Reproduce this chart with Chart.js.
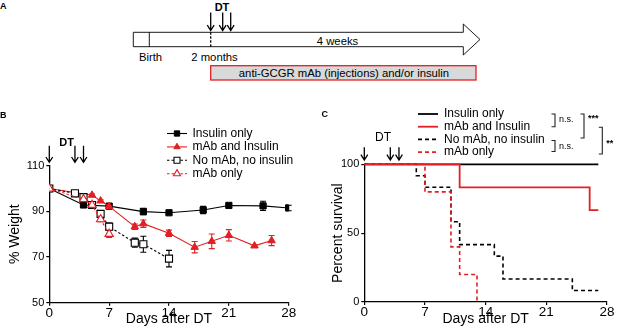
<!DOCTYPE html>
<html>
<head>
<meta charset="utf-8">
<script src="https://cdn.jsdelivr.net/npm/chart.js@4.4.0/dist/chart.umd.min.js"></script>
<style>
  body { margin: 0; background: #fff; width: 617px; height: 336px; overflow: hidden; position: relative;
         font-family: "Liberation Sans", Arial, sans-serif; }
  #schema { position: absolute; left: 0; top: 0; }
  #weight { position: absolute; left: 0; top: 100px; }
  #surv { position: absolute; left: 310px; top: 100px; }
</style>
</head>
<body>
<svg id="schema" width="617" height="100">
  <text x="0" y="9" font-size="9" font-weight="bold">A</text>
  <text x="222" y="10.5" font-size="11" font-weight="bold" text-anchor="middle">DT</text>
  <g stroke="#000" stroke-width="1.3" fill="none">
    <path d="M210.7 12.5V30.5M207.3 25.2l3.4 5.3 3.4-5.3"/>
    <path d="M222.7 12.5V30.5M219.3 25.2l3.4 5.3 3.4-5.3"/>
    <path d="M230.7 12.5V30.5M227.3 25.2l3.4 5.3 3.4-5.3"/>
  </g>
  <polygon points="133.3,32.3 463.3,32.3 463.3,24 480,39.5 463.3,55 463.3,46.7 133.3,46.7"
           fill="#fff" stroke="#000" stroke-width="0.9"/>
  <line x1="149.3" y1="32.3" x2="149.3" y2="46.7" stroke="#000" stroke-width="0.9"/>
  <line x1="210.7" y1="32.3" x2="210.7" y2="46.7" stroke="#000" stroke-width="1.3" stroke-dasharray="2.5 1.5"/>
  <text x="337.5" y="45" font-size="11.3" text-anchor="middle">4 weeks</text>
  <text x="150.5" y="61" font-size="11.3" text-anchor="middle">Birth</text>
  <text x="214.5" y="61" font-size="11.3" text-anchor="middle">2 months</text>
  <rect x="210.7" y="65.7" width="265.3" height="14.3" fill="#d9d9d9" stroke="#e31e24" stroke-width="1.3"/>
  <text x="344" y="77" font-size="11.3" text-anchor="middle">anti-GCGR mAb (injections) and/or insulin</text>
</svg>
<canvas id="weight" width="310" height="236"></canvas>
<canvas id="surv" width="307" height="236"></canvas>
<script>
const groups = ['Insulin only', 'mAb and Insulin', 'No mAb, no insulin', 'mAb only'];
const dayTicks = [0, 7, 14, 21, 28];
const weightTicks = [50, 70, 90, 110];
const survivalTicks = [0, 50, 100];
const dtDays = [0, 3, 4];

// panel B: % weight (mean and error)
const insulinDays   = [0, 4, 7, 11, 14, 18, 21, 25, 28];
const insulinWeight = [100, 92.8, 92.3, 89.9, 89.4, 90.6, 92.6, 92.4, 91.5];
const insulinErr    = [0, 0.8, 0.5, 1.4, 0.8, 1.6, 0.8, 2.0, 1.2];

const mabInsDays    = [0, 5, 6, 7, 10, 11, 14, 17, 19, 21, 24, 26];
const mabInsWeight  = [100, 97.1, 94.6, 92.2, 83.3, 84.6, 80.4, 74.3, 76.9, 79.5, 74.9, 77.2];
const mabInsErr     = [0, 0.5, 0.5, 0.5, 1.2, 1.6, 1.4, 2.5, 3.2, 2.5, 0.5, 2.2];

const noneDays      = [0, 3, 4, 5, 6, 7, 10, 11, 14];
const noneWeight    = [100, 97.9, 96.2, 92.8, 88.9, 83.3, 76.3, 75.6, 69.3];
const noneErr       = [0, 0.6, 0.8, 0.8, 1.2, 1.6, 2.0, 3.5, 3.6];

const mabDays       = [0, 4, 5, 6, 7];
const mabWeight     = [100, 95.3, 92.8, 86.5, 80.1];
const mabErr        = [0, 0, 0, 1.0, 1.5];

// panel C: survival steps
const survInsulinDays = [0, 27];
const survInsulin     = [100, 100];
const survMabInsDays  = [0, 11, 26, 27];
const survMabIns      = [100, 83.3, 66.7, 66.7];
const survNoneDays    = [0, 6, 7, 10, 11, 15, 16, 24, 27];
const survNone        = [100, 91.7, 83.3, 58.3, 41.7, 33.3, 16.7, 8.3, 8.3];
const survMabDays     = [0, 7, 10, 11, 13];
const survMab         = [100, 80, 40, 20, 0];

const RED = '#e31e24';
const FONT = '"Liberation Sans", Arial, sans-serif';
Chart.defaults.font.family = FONT;
Chart.defaults.color = '#000';

const pts = (xs, ys) => xs.map((x, i) => ({x: x, y: ys[i]}));

function mark(ctx, style, r, x, y) {
  ctx.beginPath();
  if (style === 'rect') {
    const s = r * Math.SQRT1_2;
    ctx.rect(x - s, y - s, 2 * s, 2 * s);
  } else {
    for (let k = 0; k < 3; k++) {
      const a = k * 2 * Math.PI / 3;
      const px = x + Math.sin(a) * r, py = y - Math.cos(a) * r;
      k ? ctx.lineTo(px, py) : ctx.moveTo(px, py);
    }
    ctx.closePath();
  }
  ctx.fill();
  ctx.stroke();
}

const panelDecor = {
  id: 'panelDecor',
  beforeDatasetsDraw(chart) {
    const ctx = chart.ctx, ys = chart.scales.y;
    chart.data.datasets.forEach((ds, i) => {
      if (!ds.errors) return;
      const meta = chart.getDatasetMeta(i);
      ctx.save();
      ctx.strokeStyle = ds.borderColor;
      ctx.lineWidth = 1.1;
      meta.data.forEach((p, j) => {
        const e = ds.errors[j];
        if (!e) return;
        const v = ds.data[j].y;
        const y1 = ys.getPixelForValue(v + e), y2 = ys.getPixelForValue(v - e);
        ctx.beginPath();
        ctx.moveTo(p.x, y1); ctx.lineTo(p.x, y2);
        ctx.moveTo(p.x - 3, y1); ctx.lineTo(p.x + 3, y1);
        ctx.moveTo(p.x - 3, y2); ctx.lineTo(p.x + 3, y2);
        ctx.stroke();
      });
      ctx.restore();
    });
  },
  afterDraw(chart, args, o) {
    const ctx = chart.ctx, xs = chart.scales.x, top = chart.chartArea.top;
    ctx.save();
    ctx.fillStyle = '#000';
    ctx.textBaseline = 'middle';
    ctx.font = 'bold 9px ' + FONT;
    ctx.fillText(o.label, o.labelX, o.labelY);

    // DT arrows
    ctx.textAlign = 'center';
    ctx.font = o.dtFont;
    ctx.fillText('DT', o.dtX, o.dtY);
    ctx.strokeStyle = '#000';
    ctx.lineWidth = 1.3;
    dtDays.forEach(d => {
      const x = xs.getPixelForValue(d);
      const y1 = top - o.arrowTop, y2 = top - o.arrowGap;
      ctx.beginPath();
      ctx.moveTo(x, y1); ctx.lineTo(x, y2);
      ctx.moveTo(x - 3.4, y2 - 5.3); ctx.lineTo(x, y2); ctx.lineTo(x + 3.4, y2 - 5.3);
      ctx.stroke();
    });

    // legend
    const lg = o.legend;
    ctx.textAlign = 'left';
    chart.data.datasets.forEach((ds, i) => {
      const y = lg.y + i * lg.dy;
      ctx.strokeStyle = ds.borderColor;
      ctx.lineWidth = ds.borderWidth;
      ctx.setLineDash(ds.borderDash || []);
      ctx.beginPath();
      ctx.moveTo(lg.x, y); ctx.lineTo(lg.x + lg.w, y);
      ctx.stroke();
      ctx.setLineDash([]);
      if (ds.pointRadius > 0) {
        ctx.fillStyle = ds.pointBackgroundColor;
        ctx.strokeStyle = ds.pointBorderColor;
        ctx.lineWidth = ds.pointBorderWidth;
        mark(ctx, ds.pointStyle, ds.pointRadius * 0.85, lg.x + lg.w / 2, y);
      }
      ctx.fillStyle = '#000';
      ctx.font = '12px ' + FONT;
      ctx.fillText(ds.label, lg.x + lg.w + lg.gap, y);
    });

    // significance brackets
    (o.brackets || []).forEach(b => {
      ctx.strokeStyle = '#222';
      ctx.lineWidth = 1.1;
      ctx.beginPath();
      ctx.moveTo(b.x - 3.5, b.y1); ctx.lineTo(b.x, b.y1); ctx.lineTo(b.x, b.y2); ctx.lineTo(b.x - 3.5, b.y2);
      ctx.stroke();
      ctx.fillStyle = '#000';
      ctx.font = b.font;
      ctx.textBaseline = 'middle';
      ctx.fillText(b.text, b.x + 4, b.ty);
    });
    ctx.restore();
  }
};

function axes(cfg) {
  const tickGrid = {drawOnChartArea: false, drawTicks: true, tickLength: 3, color: '#000', lineWidth: 1.2};
  return {
    x: {
      type: 'linear', min: 0, max: 28,
      afterBuildTicks: s => { s.ticks = dayTicks.map(v => ({value: v})); },
      afterFit: s => { s.height = cfg.xh; },
      grid: tickGrid,
      border: {color: '#000', width: 1.3},
      ticks: {font: {size: 13.5, lineHeight: 1}, padding: 0.5, color: '#000'},
      title: {display: true, text: 'Days after DT', font: {size: 14, lineHeight: 1.2},
              padding: {top: 0, bottom: cfg.xtp}, color: '#000'}
    },
    y: {
      type: 'linear', min: cfg.ymin, max: cfg.ymax,
      afterBuildTicks: s => { s.ticks = cfg.yticks.map(v => ({value: v})); },
      afterFit: s => { s.width = cfg.yw; },
      grid: tickGrid,
      border: {color: '#000', width: 1.3},
      ticks: {font: {size: 11}, padding: 2, color: '#000'},
      title: {display: true, text: cfg.ytitle, font: {size: 14, lineHeight: 1.2},
              padding: {top: 0, bottom: 0}, color: '#000'}
    }
  };
}

new Chart(document.getElementById('weight'), {
  type: 'line',
  data: {
    datasets: [
      {label: groups[0], data: pts(insulinDays, insulinWeight), errors: insulinErr, order: 3,
       borderColor: '#000', borderWidth: 1.1, pointStyle: 'rect', pointRadius: 4.4,
       pointBackgroundColor: '#000', pointBorderColor: '#000', pointBorderWidth: 1},
      {label: groups[1], data: pts(mabInsDays, mabInsWeight), errors: mabInsErr, order: 2,
       borderColor: RED, borderWidth: 1.1, pointStyle: 'triangle', pointRadius: 4.3,
       pointBackgroundColor: RED, pointBorderColor: RED, pointBorderWidth: 1},
      {label: groups[2], data: pts(noneDays, noneWeight), errors: noneErr, order: 1,
       borderColor: '#000', borderWidth: 1.1, borderDash: [2.5, 2], pointStyle: 'rect', pointRadius: 5,
       pointBackgroundColor: '#fff', pointBorderColor: '#000', pointBorderWidth: 1.1},
      {label: groups[3], data: pts(mabDays, mabWeight), errors: mabErr, order: 0,
       borderColor: RED, borderWidth: 1.1, borderDash: [2.5, 2], pointStyle: 'triangle', pointRadius: 4.8,
       pointBackgroundColor: '#fff', pointBorderColor: RED, pointBorderWidth: 1.1}
    ]
  },
  options: {
    responsive: false, animation: false,
    layout: {padding: {left: 6.6, top: 65.7, right: 21.3, bottom: 0}},
    scales: axes({xh: 33.3, xtp: 8.6, yw: 42.7, ymin: 50, ymax: 110, yticks: weightTicks, ytitle: '% Weight'}),
    plugins: {
      legend: {display: false}, tooltip: {enabled: false},
      panelDecor: {
        label: 'B', labelX: 0, labelY: 16,
        dtFont: 'bold 11px ' + FONT, dtX: 66.7, dtY: 42.6, arrowTop: 20, arrowGap: 3.4,
        legend: {x: 167, y: 33.5, dy: 13.4, w: 20, gap: 5.5}
      }
    }
  },
  plugins: [panelDecor]
});

new Chart(document.getElementById('surv'), {
  type: 'line',
  data: {
    datasets: [
      {label: groups[0], data: pts(survInsulinDays, survInsulin), order: 3, stepped: true, clip: 4,
       borderColor: '#000', borderWidth: 1.8, pointRadius: 0},
      {label: groups[1], data: pts(survMabInsDays, survMabIns), order: 0, stepped: true, clip: 4,
       borderColor: RED, borderWidth: 1.8, pointRadius: 0},
      {label: groups[2], data: pts(survNoneDays, survNone), order: 2, stepped: true, clip: 4,
       borderColor: '#000', borderWidth: 1.6, borderDash: [4, 3], pointRadius: 0},
      {label: groups[3], data: pts(survMabDays, survMab), order: 1, stepped: true, clip: 4,
       borderColor: RED, borderWidth: 1.6, borderDash: [4, 3], pointRadius: 0}
    ]
  },
  options: {
    responsive: false, animation: false,
    layout: {padding: {left: 19.9, top: 64.3, right: 10, bottom: 0}},
    scales: axes({xh: 34, xtp: 8.3, yw: 34.4, ymin: 0, ymax: 100, yticks: survivalTicks, ytitle: 'Percent survival'}),
    plugins: {
      legend: {display: false}, tooltip: {enabled: false},
      panelDecor: {
        label: 'C', labelX: 11.5, labelY: 15,
        dtFont: '12px ' + FONT, dtX: 73, dtY: 37.5, arrowTop: 17, arrowGap: 4.3,
        legend: {x: 108, y: 14, dy: 12.7, w: 20, gap: 6},
        brackets: [
          {x: 245, y1: 14, y2: 26.7, text: 'n.s.', ty: 19.7, font: '9px ' + FONT},
          {x: 245, y1: 40.5, y2: 51.5, text: 'n.s.', ty: 46.5, font: '9px ' + FONT},
          {x: 274, y1: 14, y2: 38, text: '***', ty: 19, font: 'bold 9px ' + FONT},
          {x: 292.3, y1: 27.3, y2: 54, text: '**', ty: 43.5, font: 'bold 9px ' + FONT}
        ]
      }
    }
  },
  plugins: [panelDecor]
});
</script>
</body>
</html>
